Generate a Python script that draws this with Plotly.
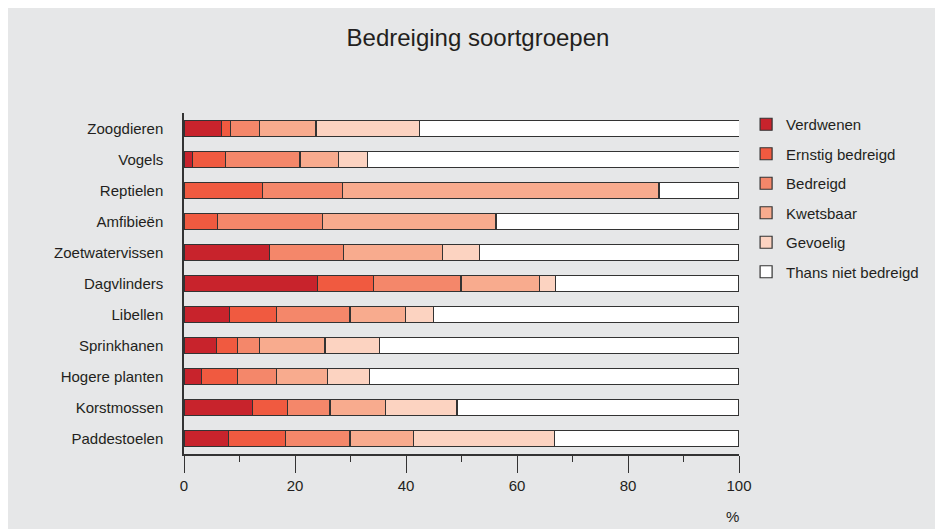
import plotly.graph_objects as go

categories = ["Zoogdieren", "Vogels", "Reptielen", "Amfibieën", "Zoetwatervissen",
              "Dagvlinders", "Libellen", "Sprinkhanen", "Hogere planten",
              "Korstmossen", "Paddestoelen"]

verdwenen       = [6.7, 1.6, 0.0, 0.0, 15.4, 24.1, 8.2, 5.8, 3.2, 12.4, 8.0]
ernstig         = [1.7, 5.9, 14.2, 6.1, 0.0, 10.1, 8.4, 3.9, 6.5, 6.2, 10.3]
bedreigd        = [5.2, 13.4, 14.3, 18.8, 13.4, 15.7, 13.3, 3.9, 6.9, 7.7, 11.6]
kwetsbaar       = [10.2, 6.9, 57.1, 31.3, 17.8, 14.2, 10.0, 11.8, 9.2, 10.0, 11.5]
gevoelig        = [18.6, 5.3, 0.0, 0.0, 6.7, 2.9, 5.0, 9.8, 7.6, 12.9, 25.4]
niet_bedreigd   = [57.7, 67.0, 14.4, 43.8, 46.7, 33.0, 55.1, 64.8, 66.6, 50.8, 33.2]

series_names = ["Verdwenen", "Ernstig bedreigd", "Bedreigd", "Kwetsbaar",
                "Gevoelig", "Thans niet bedreigd"]
series_values = [verdwenen, ernstig, bedreigd, kwetsbaar, gevoelig, niet_bedreigd]
series_colors = ["#C8232C", "#F05A40", "#F4876A", "#F8AB8E", "#FCD3C1", "#FFFFFF"]

x_ticks = [0, 20, 40, 60, 80, 100]

BG = "#E6E7E8"
TXT = "#231F20"
FONT = "Liberation Sans, Arial, sans-serif"

W, H = 935, 521  # page body has an 8px margin
OFF = 8

fig = go.Figure()
for name, vals, col in zip(series_names, series_values, series_colors):
    fig.add_trace(go.Bar(
        y=categories, x=vals, name=name, orientation="h",
        marker=dict(color=col, line=dict(color="#333333", width=1.2)),
        legendgroup=name,
    ))

fig.update_layout(
    width=W, height=H,
    barmode="stack", bargap=0.49,
    paper_bgcolor=BG, plot_bgcolor=BG,
    margin=dict(l=184 - OFF, r=W + OFF - 739, t=113 - OFF, b=H + OFF - 454),
    font=dict(family=FONT, size=15, color=TXT),
    title=dict(text="Bedreiging soortgroepen", x=(478 - OFF) / W, xanchor="center",
               y=1 - (38 - OFF) / H, yanchor="middle",
               font=dict(family=FONT, size=24, color=TXT)),
    legend=dict(x=1.02 - 4 / 555, xanchor="left", y=1.0 + 5 / 341, yanchor="top",
                traceorder="grouped", tracegroupgap=7,
                font=dict(family=FONT, size=15, color=TXT),
                bgcolor="rgba(0,0,0,0)", itemwidth=30),
    xaxis=dict(range=[0, 100], tickvals=x_ticks, ticks="outside", ticklen=17,
               tickcolor="#333333", tickwidth=1.2, showline=True,
               linecolor="#333333", linewidth=1.5, showgrid=False, zeroline=False,
               minor=dict(dtick=10, ticks="outside", ticklen=6,
                          tickcolor="#333333", tickwidth=1.2, showgrid=False),
               tickfont=dict(family=FONT, size=15, color=TXT)),
    yaxis=dict(autorange="reversed", showline=True, linecolor="#333333",
               linewidth=1.5, showgrid=False, zeroline=False, ticks="",
               ticklabelstandoff=16,
               tickfont=dict(family=FONT, size=15, color=TXT)),
)

fig.add_annotation(text="%", xref="paper", yref="paper",
                   x=(732 - 184) / 555, y=-(516 - 454) / 341,
                   xanchor="center", yanchor="middle", showarrow=False,
                   font=dict(family=FONT, size=15, color=TXT))

fig.write_html("out.html")
